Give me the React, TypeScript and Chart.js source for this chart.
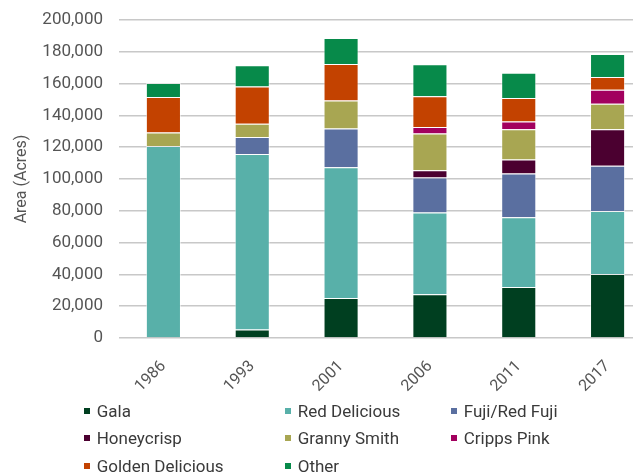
import React, { useEffect, useRef } from "react";
import { Chart, registerables } from "chart.js";

Chart.register(...registerables);

// Apple acreage by variety, census years
const years = ["1986", "1993", "2001", "2006", "2011", "2017"];

const gala = [null, 5300, 25200, 27500, 32100, 40300];
const redDelicious = [120700, 110400, 82200, 51400, 43800, 39600];
const fuji = [null, 10700, 24300, 22000, 27500, 28500];
const honeycrisp = [null, null, null, 4600, 8800, 22900];
const grannySmith = [8500, 8400, 17600, 23100, 19100, 16100];
const crippsPink = [null, null, null, 4100, 4800, 8800];
const goldenDelicious = [22400, 23300, 23000, 19300, 14800, 8000];
const other = [8800, 13400, 16400, 20100, 16000, 14400];

const yTicksMax = 200000;
const yTicksStep = 20000;

const series = [
  { label: "Gala", data: gala, color: "#003f20" },
  { label: "Red Delicious", data: redDelicious, color: "#58b0a9" },
  { label: "Fuji/Red Fuji", data: fuji, color: "#5a6fa0" },
  { label: "Honeycrisp", data: honeycrisp, color: "#4b0030" },
  { label: "Granny Smith", data: grannySmith, color: "#a8a652" },
  { label: "Cripps Pink", data: crippsPink, color: "#a2005e" },
  { label: "Golden Delicious", data: goldenDelicious, color: "#c34200" },
  { label: "Other", data: other, color: "#078a4a" },
];

const CANVAS_W = 652;
const CANVAS_H = 400;
const AXIS_BOTTOM = 338;
const FONT = "Roboto, 'Noto Sans', sans-serif";
const TEXT = "#555555";

export default function App() {
  const canvasRef = useRef<HTMLCanvasElement | null>(null);

  useEffect(() => {
    const canvas = canvasRef.current;
    if (!canvas) return;
    Chart.defaults.font.family = FONT;
    const chart = new Chart(canvas, {
      type: "bar",
      data: {
        labels: years,
        datasets: series.map((s) => ({
          label: s.label,
          data: s.data as (number | null)[],
          backgroundColor: s.color,
          borderColor: "rgba(255,255,255,0.55)",
          borderWidth: 1,
          barPercentage: 0.395,
          categoryPercentage: 1,
        })),
      },
      options: {
        responsive: false,
        animation: false,
        devicePixelRatio: 1,
        layout: { padding: { top: 20, right: 0, left: 2, bottom: 0 } },
        plugins: {
          legend: { display: false },
          tooltip: { enabled: false },
        },
        scales: {
          x: {
            stacked: true,
            grid: { display: false },
            border: { display: false },
            ticks: {
              minRotation: 45,
              maxRotation: 45,
              padding: 11,
              color: TEXT,
              font: { size: 16, family: FONT },
            },
            afterFit: (scale: any) => {
              scale.height = CANVAS_H - AXIS_BOTTOM;
            },
          },
          y: {
            stacked: true,
            min: 0,
            max: yTicksMax,
            border: { display: false },
            grid: { color: "#c8c8c8", lineWidth: 1.5, drawTicks: false },
            ticks: {
              stepSize: yTicksStep,
              padding: 16,
              color: TEXT,
              font: { size: 17, family: FONT },
              callback: (v: any) => Number(v).toLocaleString("en-US"),
            },
            title: {
              display: true,
              text: "Area (Acres)",
              color: TEXT,
              font: { size: 16, family: FONT },
              padding: { top: 10, bottom: 0 },
            },
            afterFit: (scale: any) => {
              scale.width = 117;
              scale.paddingTop = 0;
              scale.paddingBottom = 0;
            },
          },
        },
      },
    });
    return () => chart.destroy();
  }, []);

  return (
    <div
      style={{
        position: "fixed",
        left: 0,
        top: 0,
        width: 633,
        height: 474,
        overflow: "hidden",
        background: "#ffffff",
        fontFamily: FONT,
      }}
    >
      <canvas
        ref={canvasRef}
        width={CANVAS_W}
        height={CANVAS_H}
        style={{ position: "absolute", left: 0, top: 0, width: CANVAS_W, height: CANVAS_H }}
      />
      <div
        style={{
          position: "absolute",
          left: 84,
          top: 397.5,
          display: "grid",
          gridTemplateColumns: "201px 166px auto",
          gridAutoRows: "27.3px",
          fontSize: 17,
          color: "#3a3a3a",
        }}
      >
        {series.map((s) => (
          <div key={s.label} style={{ display: "flex", alignItems: "center", whiteSpace: "nowrap" }}>
            <span
              style={{
                display: "inline-block",
                width: 6,
                height: 6,
                background: s.color,
                marginRight: 6.7,
              }}
            />
            <span>{s.label}</span>
          </div>
        ))}
      </div>
    </div>
  );
}
